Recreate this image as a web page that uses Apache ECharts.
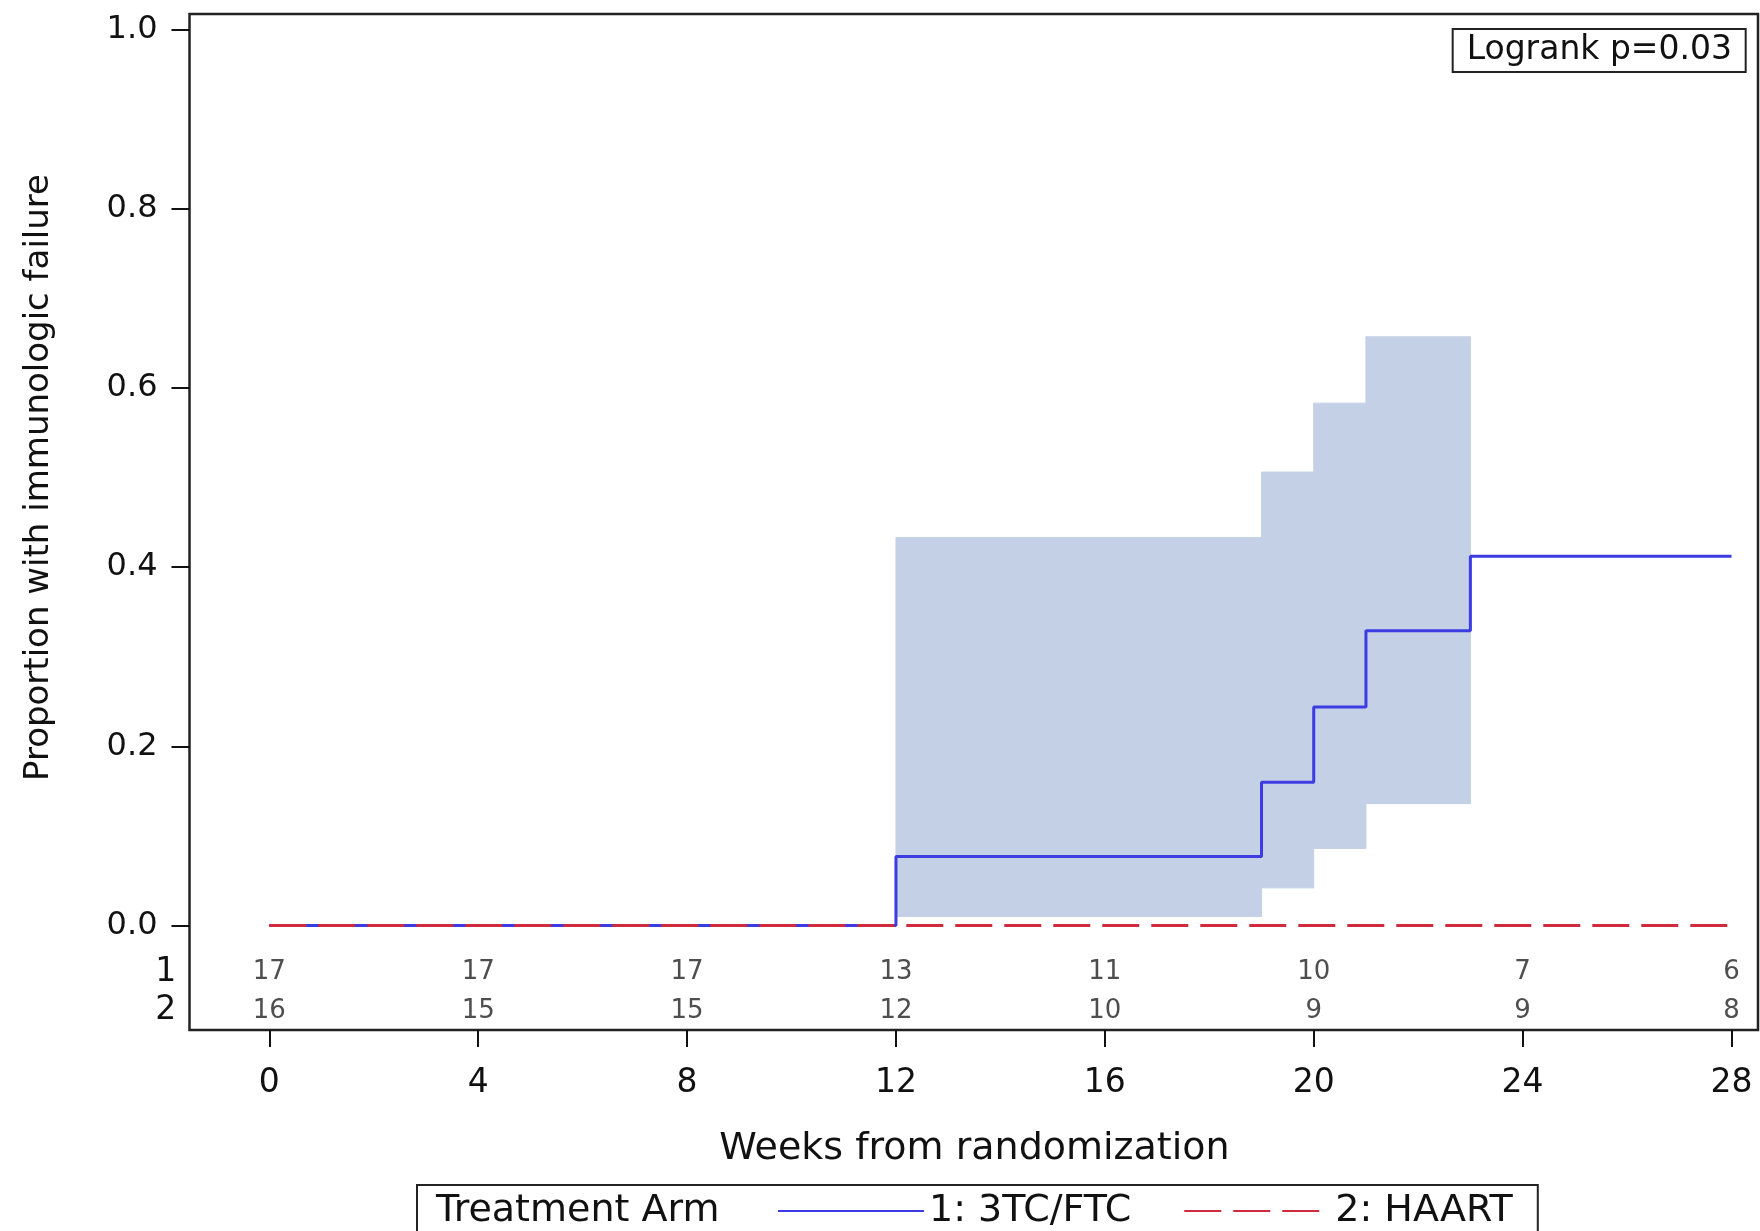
<!DOCTYPE html>
<html>
<head>
<meta charset="utf-8">
<script src="https://cdn.jsdelivr.net/npm/echarts@6/dist/echarts.min.js"></script>
<style>
html,body{margin:0;padding:0;background:#fff;}
#chart{width:1760px;height:1231px;}
</style>
</head>
<body>
<div id="chart"></div>
<script>
// ---- data ----
const kmWeeks   = [0, 12, 19, 20, 21, 23, 28];
const arm1Fail  = [0, 0.077, 0.160, 0.244, 0.329, 0.412, 0.412];
const arm2Weeks = [0, 28];
const arm2Fail  = [0, 0];
const ciStart   = [12, 19, 20, 21];
const ciEnd     = [19, 20, 21, 23];
const ciLower   = [0.010, 0.042, 0.086, 0.136];
const ciUpper   = [0.433, 0.506, 0.583, 0.657];
const riskWeeks = [0, 4, 8, 12, 16, 20, 24, 28];
const riskArm1  = [17, 17, 17, 13, 11, 10, 7, 6];
const riskArm2  = [16, 15, 15, 12, 10, 9, 9, 8];
const armNames  = ['1: 3TC/FTC', '2: HAART'];
const riskRows  = ['2', '1'];

const FONT = 'DejaVu Sans';
const TXT = '#111';
const BAND = '#c4d0e6';

const chart = echarts.init(document.getElementById('chart'), null, {renderer: 'canvas'});

const frameL = 189.5, frameT = 14, frameR = 1758, frameB = 1030;
const plotL = 269.3, plotR = 1731.5, plotT = 29.5, plotB = 925.5;

const option = {
  animation: false,
  backgroundColor: '#fff',
  textStyle: {fontFamily: FONT, color: TXT},
  title: {
    text: 'Logrank p=0.03',
    right: 14,
    top: 29,
    padding: [5, 14, 5, 14],
    borderColor: '#222',
    borderWidth: 2,
    textStyle: {fontFamily: FONT, fontSize: 33, fontWeight: 'normal', color: TXT, lineHeight: 33}
  },
  legend: {
    data: armNames,
    left: 417,
    top: 1185,
    orient: 'horizontal',
    padding: [7, 25, 14, 360],
    itemGap: 52,
    itemWidth: 146,
    itemHeight: 20,
    itemStyle: {opacity: 0},
    borderColor: '#222',
    borderWidth: 2,
    textStyle: {fontFamily: FONT, fontSize: 38, color: TXT}
  },
  graphic: [{
    type: 'text',
    left: 436,
    top: 1192,
    style: {text: 'Treatment Arm', fontFamily: FONT, fontSize: 38, fill: TXT}
  }],
  grid: [
    {left: frameL, top: frameT, width: frameR - frameL, height: frameB - frameT,
     show: true, borderColor: '#222', borderWidth: 2.5, backgroundColor: '#fff'},
    {left: plotL, top: plotT, width: plotR - plotL, height: plotB - plotT},
    {left: plotL, top: 953, width: plotR - plotL, height: frameB - 953},
    {left: frameL, top: plotT, width: frameR - frameL, height: plotB - plotT}
  ],
  xAxis: [
    {gridIndex: 0, type: 'value', show: false, min: 0, max: 1},
    {gridIndex: 1, type: 'value', show: false, min: 0, max: 28},
    {gridIndex: 2, type: 'value', min: 0, max: 28, interval: 4,
     name: 'Weeks from randomization', nameLocation: 'middle', nameGap: 100,
     nameTextStyle: {fontFamily: FONT, fontSize: 38, color: TXT, padding: [0, 52, 0, 0]},
     axisLine: {show: false},
     axisTick: {show: true, length: 17, inside: false, lineStyle: {color: '#111', width: 2}},
     axisLabel: {fontFamily: FONT, fontSize: 33, color: TXT, margin: 37},
     splitLine: {show: false}},
    {gridIndex: 3, type: 'value', show: false, min: 0, max: 1}
  ],
  yAxis: [
    {gridIndex: 0, type: 'value', show: false, min: 0, max: 1},
    {gridIndex: 1, type: 'value', show: false, min: 0, max: 1},
    {gridIndex: 2, type: 'category', data: riskRows,
     axisLine: {show: false}, axisTick: {show: false},
     axisLabel: {fontFamily: FONT, fontSize: 33, color: TXT, margin: 93, interval: 0},
     splitLine: {show: false}},
    {gridIndex: 3, type: 'value', min: 0, max: 1, interval: 0.2,
     name: 'Proportion with immunologic failure', nameLocation: 'middle', nameGap: 133, nameRotate: 90,
     nameTextStyle: {fontFamily: FONT, fontSize: 34, color: TXT},
     axisLine: {show: false},
     axisTick: {show: true, length: 18, inside: false, lineStyle: {color: '#111', width: 2}},
     axisLabel: {fontFamily: FONT, fontSize: 32, color: TXT, margin: 32,
                 formatter: v => v.toFixed(1)},
     splitLine: {show: false}}
  ],
  series: [
    {name: 'ci', type: 'custom', xAxisIndex: 1, yAxisIndex: 1, silent: true, z: 1,
     encode: {x: [0, 1], y: [2, 3]},
     renderItem: (params, api) => {
       const p0 = api.coord([api.value(0), api.value(3)]);
       const p1 = api.coord([api.value(1), api.value(2)]);
       return {type: 'rect',
               shape: {x: p0[0], y: p0[1], width: p1[0] - p0[0], height: p1[1] - p0[1]},
               style: {fill: BAND, stroke: BAND, lineWidth: 1}};
     },
     data: ciStart.map((s, i) => [s, ciEnd[i], ciLower[i], ciUpper[i]])},
    {name: armNames[0], type: 'line', xAxisIndex: 1, yAxisIndex: 1, step: 'end',
     symbol: 'none', clip: false, z: 3,
     color: '#3c3ce2',
     lineStyle: {color: '#3c3ce2', width: 3},
     data: kmWeeks.map((w, i) => [w, arm1Fail[i]])},
    {name: armNames[1], type: 'line', xAxisIndex: 1, yAxisIndex: 1,
     symbol: 'none', clip: false, z: 4,
     color: '#cf2a3e',
     lineStyle: {color: '#cf2a3e', width: 3, type: [37, 12]},
     data: arm2Weeks.map((w, i) => [w, arm2Fail[i]])},
    {name: 'risk1', type: 'scatter', xAxisIndex: 2, yAxisIndex: 2, symbolSize: 0, silent: true,
     label: {show: true, position: 'inside', fontFamily: FONT, fontSize: 26, color: '#222',
             formatter: p => String(p.value[2])},
     data: riskWeeks.map((w, i) => [w, '1', riskArm1[i]])},
    {name: 'risk2', type: 'scatter', xAxisIndex: 2, yAxisIndex: 2, symbolSize: 0, silent: true,
     label: {show: true, position: 'inside', fontFamily: FONT, fontSize: 26, color: '#222',
             formatter: p => String(p.value[2])},
     data: riskWeeks.map((w, i) => [w, '2', riskArm2[i]])}
  ]
};
chart.setOption(option);
</script>
</body>
</html>
